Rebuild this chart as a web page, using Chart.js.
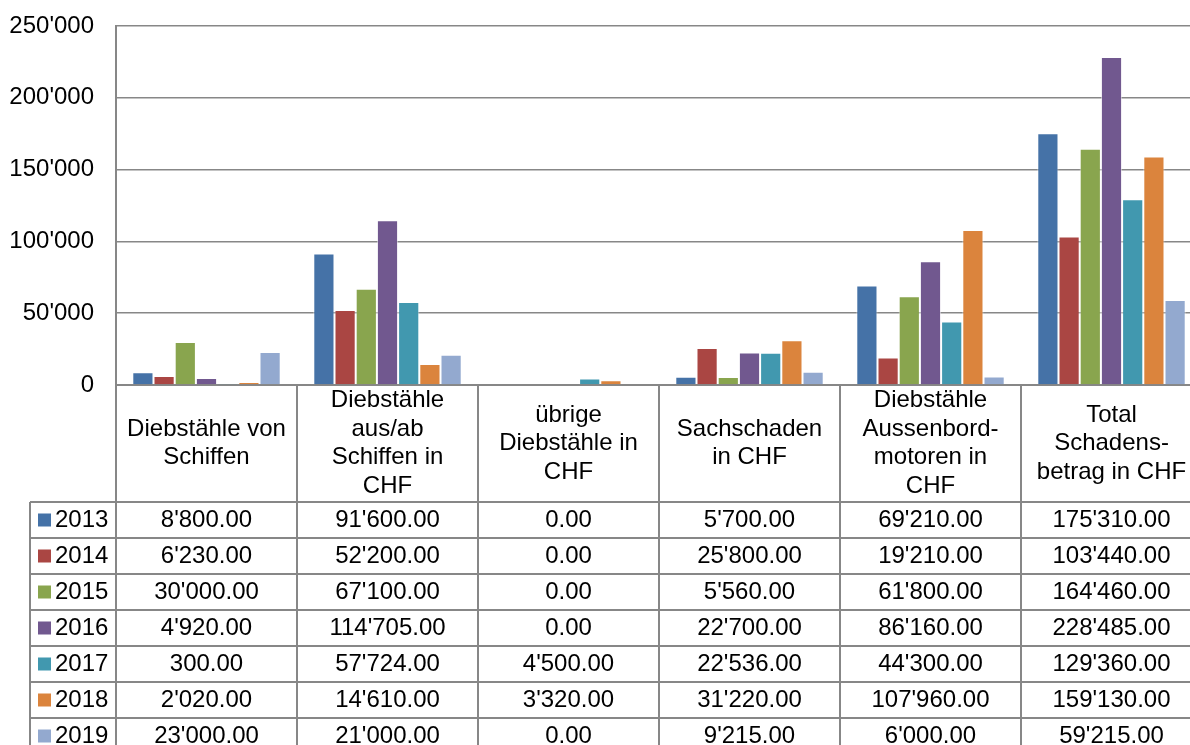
<!DOCTYPE html>
<html>
<head>
<meta charset="utf-8">
<script src="https://cdn.jsdelivr.net/npm/chart.js@4"></script>
<style>
  html, body { margin: 0; padding: 0; background: #fff; overflow: hidden; }
  #wrap { width: 1202px; height: 745px; }
</style>
</head>
<body>
<div id="wrap"><canvas id="chart" width="1202" height="745"></canvas></div>
<script>
// Kategorien (Tabellenkopf)
const categories = [
    ['Diebstähle von', 'Schiffen'],
    ['Diebstähle', 'aus/ab', 'Schiffen in', 'CHF'],
    ['übrige', 'Diebstähle in', 'CHF'],
    ['Sachschaden', 'in CHF'],
    ['Diebstähle', 'Aussenbord-', 'motoren in', 'CHF'],
    ['Total', 'Schadens-', 'betrag in CHF']
];

const years = ['2013', '2014', '2015', '2016', '2017', '2018', '2019'];

// Werte je Jahr
const v2013 = [8800, 91600, 0, 5700, 69210, 175310];
const v2014 = [6230, 52200, 0, 25800, 19210, 103440];
const v2015 = [30000, 67100, 0, 5560, 61800, 164460];
const v2016 = [4920, 114705, 0, 22700, 86160, 228485];
const v2017 = [300, 57724, 4500, 22536, 44300, 129360];
const v2018 = [2020, 14610, 3320, 31220, 107960, 159130];
const v2019 = [23000, 21000, 0, 9215, 6000, 59215];

const yTicks = [0, 50000, 100000, 150000, 200000, 250000];

const values = [v2013, v2014, v2015, v2016, v2017, v2018, v2019];
const colors = ['#4572A7', '#AA4643', '#89A54E', '#71588F', '#4198AF', '#DB843D', '#93A9CF'];
const lineColor = '#878787';
const fontFamily = '"Liberation Sans", Arial, sans-serif';
const fontSize = 24;

function apos(n) {
    return String(n).replace(/\B(?=(\d{3})+(?!\d))/g, "'");
}
function fmt(n) {
    return apos(Math.floor(n)) + '.' + n.toFixed(2).split('.')[1];
}

// Datentabelle unter dem Diagramm
const tablePlugin = {
    id: 'dataTable',
    afterDraw(chart) {
        const ctx = chart.ctx;
        const xs = chart.scales.x;
        const area = chart.chartArea;
        const half = (xs.getPixelForValue(1) - xs.getPixelForValue(0)) / 2;
        const bounds = categories.map((c, i) => xs.getPixelForValue(i) - half);
        bounds.push(xs.getPixelForValue(categories.length - 1) + half);

        const headTop = area.bottom;
        const headBottom = headTop + 117;
        const rowH = 36;
        const legendLeft = 30;
        const bottom = headBottom + rowH * years.length;

        ctx.save();
        ctx.strokeStyle = lineColor;
        ctx.lineWidth = 2;
        ctx.beginPath();
        bounds.forEach(b => {
            ctx.moveTo(b, headTop);
            ctx.lineTo(b, bottom);
        });
        ctx.moveTo(legendLeft, headBottom);
        ctx.lineTo(legendLeft, bottom);
        for (let r = 0; r <= years.length; r++) {
            const y = headBottom + r * rowH;
            ctx.moveTo(legendLeft, y);
            ctx.lineTo(chart.width, y);
        }
        ctx.stroke();

        ctx.fillStyle = '#000';
        ctx.font = fontSize + 'px ' + fontFamily;
        ctx.textAlign = 'center';
        ctx.textBaseline = 'middle';

        // Kopfzeile
        const headMid = (headTop + headBottom) / 2;
        const lh = 28.5;
        categories.forEach((lines, i) => {
            const cx = xs.getPixelForValue(i);
            const y0 = headMid - (lines.length - 1) * lh / 2;
            lines.forEach((t, k) => ctx.fillText(t, cx, y0 + k * lh));
        });

        // Datenzeilen
        years.forEach((yr, r) => {
            const cy = headBottom + r * rowH + rowH / 2;
            ctx.fillStyle = colors[r];
            ctx.fillRect(38, cy - 6.5, 13, 13);
            ctx.fillStyle = '#000';
            ctx.textAlign = 'left';
            ctx.fillText(yr, 55, cy);
            ctx.textAlign = 'center';
            values[r].forEach((v, i) => {
                ctx.fillText(fmt(v), xs.getPixelForValue(i), cy);
            });
        });
        ctx.restore();
    }
};

const ctx = document.getElementById('chart').getContext('2d');
const chart = new Chart(ctx, {
    type: 'bar',
    data: {
        labels: categories.map(c => c.join(' ')),
        datasets: years.map((yr, i) => ({
            label: yr,
            data: values[i],
            backgroundColor: colors[i],
            borderColor: 'rgba(255,255,255,0.55)',
            borderWidth: 1,
            barPercentage: 1,
            categoryPercentage: 0.82
        }))
    },
    options: {
        responsive: false,
        devicePixelRatio: 1,
        animation: false,
        layout: { padding: { top: 26, right: 0, left: 0, bottom: 0 } },
        scales: {
            x: {
                ticks: { display: false },
                grid: { display: false },
                border: { display: true, color: lineColor, width: 2 },
                afterFit: s => { s.height = 360; }
            },
            y: {
                min: 0,
                max: 250000,
                afterBuildTicks: s => { s.ticks = yTicks.map(v => ({ value: v })); },
                ticks: {
                    padding: 22,
                    color: '#000',
                    font: { family: fontFamily, size: fontSize },
                    callback: v => apos(v)
                },
                grid: { color: lineColor, lineWidth: 1.5, drawTicks: false },
                border: { display: true, color: lineColor, width: 2 },
                afterFit: s => {
                    s.width = 116;
                    s.paddingTop = 0;
                    s.paddingBottom = 0;
                }
            }
        },
        plugins: {
            legend: { display: false },
            tooltip: { enabled: false }
        }
    },
    plugins: [tablePlugin]
});
</script>
</body>
</html>
